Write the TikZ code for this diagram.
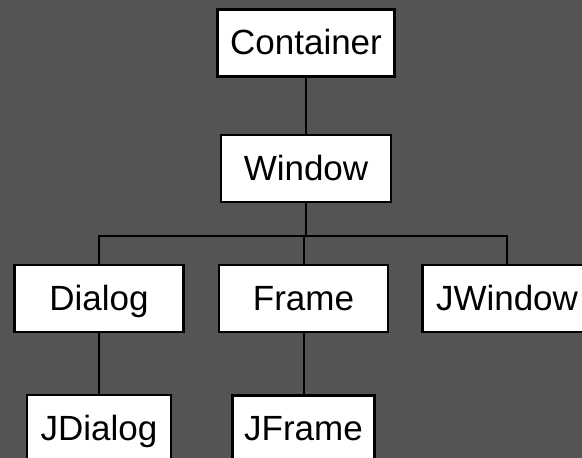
\documentclass[tikz,border=0pt]{standalone}
\usepackage{fontspec}
\setmainfont{Liberation Sans}
\usepackage{tikz}

\definecolor{bggray}{RGB}{84,84,84}

\tikzset{
    classbox/.style={draw=black, fill=white, line width=2.4pt, rectangle,
        minimum height=67pt, inner sep=2pt, text height=27pt, text depth=4pt,
        font=\fontsize{35}{40}\selectfont},
    link/.style={draw=black, line width=2pt}
}

\begin{document}
\begin{tikzpicture}[x=1pt, y=-1pt]
\useasboundingbox (0,0) rectangle (582,458);
\clip (0,0) rectangle (582,458);
\fill[bggray] (0,0) rectangle (582,458);

\coordinate (split) at (306, 236);

\begin{scope}[every node/.style={classbox}]
    \node[minimum width=177pt] (container) at (306, 43) {Container};
    \node[minimum width=170pt] (window) at (306, 168.5) {Window};

    \node[minimum width=169pt] (dialog) at (99, 298.5) {Dialog};
    \node[minimum width=169pt] (frame) at (303.5, 298.5) {Frame};
    \node[minimum width=169pt] (jwindow) at (507, 298.5) {JWindow};

    \node[minimum width=144pt] (jdialog) at (99, 428.5) {JDialog};
    \node[minimum width=142pt] (jframe) at (303.5, 429) {JFrame};
\end{scope}

\begin{scope}[link]
    \path (container) edge (window);
    \draw (window.south) -- (split);
    \draw (split) -| (dialog.north);
    \draw (split) -| (frame.north);
    \draw (split) -| (jwindow.north);

    \path (dialog) edge (jdialog);
    \path (frame) edge (jframe);
\end{scope}

\end{tikzpicture}
\end{document}
